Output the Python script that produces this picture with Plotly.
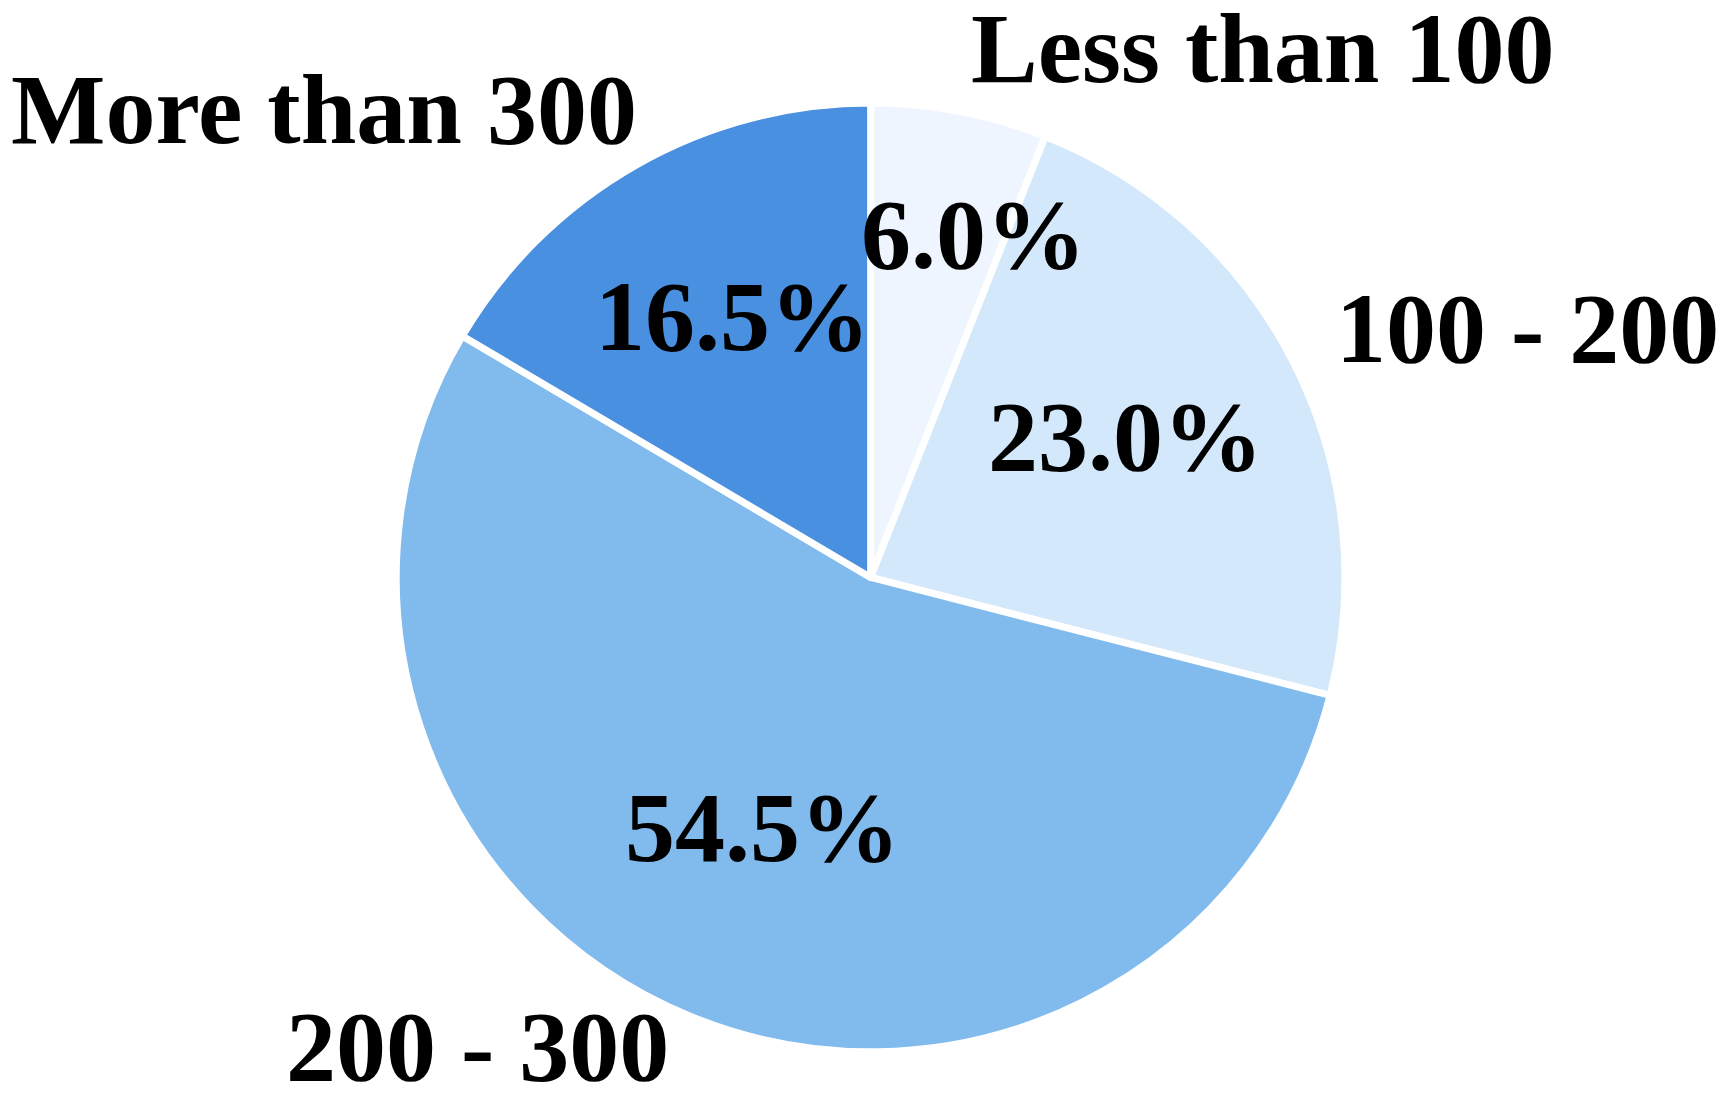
import plotly.graph_objects as go

# data
categories = ["Less than 100", "100 - 200", "200 - 300", "More than 300"]
shares = [6.0, 23.0, 54.5, 16.5]
colors = ["#EFF5FE", "#D4E8FC", "#81BBEE", "#4A90E0"]

W, H = 1727, 1093
FONT = "Liberation Serif, Times New Roman, serif"

fig = go.Figure(go.Pie(
    labels=categories,
    values=shares,
    sort=False,
    direction="clockwise",
    rotation=0,
    marker=dict(colors=colors, line=dict(color="white", width=7)),
    textinfo="none",
    hoverinfo="label+percent",
    showlegend=False,
    domain=dict(x=[0.2248, 0.7742], y=[0.045, 0.913]),
))

# label placement (pixels from top-left of the page)
name_pos = [(1254, 40), (1519, 320), (469, 1038), (316, 101)]
pct_pos = [(965, 227), (1117, 428), (754, 819), (724, 308)]

for cat, (px, py) in zip(categories, name_pos):
    fig.add_annotation(xref="paper", yref="paper", x=px / W, y=1 - py / H,
                       text=f"<b>{cat}</b>", showarrow=False,
                       xanchor="center", yanchor="middle",
                       font=dict(family=FONT, size=100, color="black"))

for v, (px, py) in zip(shares, pct_pos):
    fig.add_annotation(xref="paper", yref="paper", x=px / W, y=1 - py / H,
                       text=f"<b>{v:.1f}%</b>", showarrow=False,
                       xanchor="center", yanchor="middle",
                       font=dict(family=FONT, size=100, color="black"))

fig.update_layout(
    width=W, height=H,
    margin=dict(l=0, r=0, t=0, b=0),
    paper_bgcolor="white",
    plot_bgcolor="white",
)

fig.write_html("out.html")
